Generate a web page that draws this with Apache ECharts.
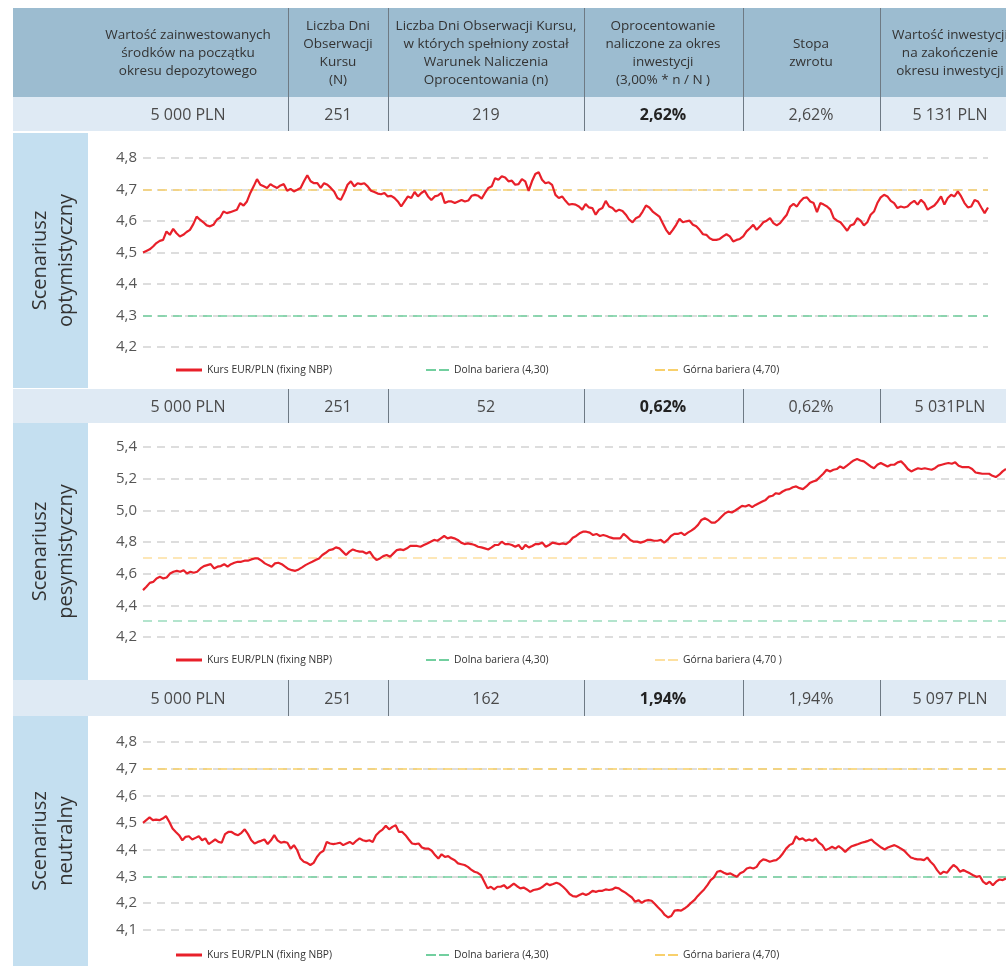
<!DOCTYPE html>
<html><head><meta charset="utf-8">
<script src="https://cdn.jsdelivr.net/npm/echarts@6/dist/echarts.min.js"></script>
<style>html,body{margin:0;padding:0;background:#fff}#c{width:1006px;height:966px}</style>
</head><body><div id="c"></div>
<script>
// ---------------- DATA ----------------
const headerLabels = [
  "Wartość zainwestowanych\nśrodków na początku\nokresu depozytowego",
  "Liczba Dni\nObserwacji\nKursu\n(N)",
  "Liczba Dni Obserwacji Kursu,\nw których spełniony został\nWarunek Naliczenia\nOprocentowania (n)",
  "Oprocentowanie\nnaliczone za okres\ninwestycji\n(3,00% * n / N )",
  "Stopa\nzwrotu",
  "Wartość inwestycji\nna zakończenie\nokresu inwestycji"
];
const rowOptimistic  = ["5 000 PLN", "251", "219", "2,62%", "2,62%", "5 131 PLN"];
const rowPessimistic = ["5 000 PLN", "251", "52",  "0,62%", "0,62%", "5 031PLN"];
const rowNeutral     = ["5 000 PLN", "251", "162", "1,94%", "1,94%", "5 097 PLN"];
const scenarioNames = ["Scenariusz\noptymistyczny", "Scenariusz\npesymistyczny", "Scenariusz\nneutralny"];

const seriesName = "Kurs EUR/PLN (fixing NBP)";
const lowerName = "Dolna bariera (4,30)";
const upperNames = ["Górna bariera (4,70)", "Górna bariera (4,70 )", "Górna bariera (4,70)"];
const LOWER = 4.30;
const UPPER = 4.70;

const yRanges = [[4.2, 4.8, 0.1], [4.2, 5.4, 0.2], [4.1, 4.8, 0.1]];

const optimistic = [
4.50,4.505,4.51,4.519,4.53,4.537,4.54,4.567,4.556,4.575,4.561,4.551,4.556,4.565,4.572,4.590,4.614,4.604,4.596,4.586,4.583,4.588,4.604,4.611,4.630,
4.625,4.628,4.632,4.636,4.657,4.649,4.662,4.689,4.710,4.733,4.715,4.710,4.705,4.717,4.710,4.705,4.713,4.717,4.696,4.702,4.694,4.699,
4.705,4.726,4.745,4.726,4.720,4.720,4.705,4.720,4.715,4.705,4.694,4.673,4.667,4.689,4.715,4.726,4.710,4.720,4.717,4.720,
4.710,4.696,4.692,4.687,4.685,4.689,4.678,4.680,4.673,4.662,4.646,4.662,4.678,4.673,4.692,4.678,4.689,4.696,4.678,4.667,4.678,
4.681,4.689,4.657,4.662,4.662,4.657,4.662,4.667,4.662,4.665,4.680,4.683,4.680,4.671,4.689,4.705,4.710,4.736,
4.731,4.742,4.738,4.726,4.728,4.715,4.717,4.733,4.726,4.696,4.726,4.749,4.755,4.731,4.720,4.723,4.715,4.683,4.673,4.678,
4.664,4.652,4.654,4.652,4.646,4.636,4.654,4.643,4.641,4.620,4.636,4.641,4.664,4.646,4.641,4.630,4.636,4.632,4.620,4.604,
4.596,4.609,4.614,4.630,4.649,4.643,4.630,4.622,4.614,4.593,4.572,4.558,4.572,4.588,4.607,4.596,4.599,4.601,4.588,4.583,
4.572,4.558,4.556,4.545,4.540,4.540,4.543,4.551,4.558,4.551,4.535,4.540,4.543,4.551,4.567,4.577,4.588,4.572,4.583,4.596,
4.601,4.609,4.593,4.586,4.593,4.607,4.620,4.646,4.654,4.646,4.662,4.673,4.675,4.662,4.657,4.628,4.657,4.652,4.646,4.636,
4.609,4.601,4.596,4.583,4.569,4.586,4.590,4.609,4.601,4.586,4.596,4.620,4.630,4.657,4.675,4.683,4.678,4.664,4.657,4.641,
4.646,4.643,4.646,4.657,4.664,4.652,4.667,4.657,4.636,4.643,4.649,4.662,4.678,4.652,4.673,4.683,4.678,4.694,4.678,4.657,
4.643,4.646,4.667,4.662,4.643,4.625,4.643
];

const pessimistic = [
4.496,4.517,4.542,4.548,4.570,4.580,4.570,4.576,4.601,4.612,4.618,4.612,4.622,4.601,4.612,4.606,4.612,4.633,4.648,4.654,
4.660,4.633,4.644,4.648,4.660,4.644,4.660,4.669,4.675,4.675,4.682,4.682,4.690,4.696,4.696,4.682,4.665,4.654,4.644,4.665,
4.669,4.660,4.644,4.629,4.622,4.618,4.627,4.640,4.654,4.665,4.675,4.686,4.696,4.718,4.732,4.749,4.753,4.766,4.760,4.739,
4.718,4.739,4.753,4.745,4.739,4.739,4.728,4.739,4.707,4.686,4.696,4.711,4.718,4.707,4.728,4.749,4.753,4.749,4.760,4.775,
4.775,4.775,4.770,4.781,4.791,4.802,4.813,4.808,4.823,4.838,4.823,4.829,4.823,4.813,4.796,4.787,4.791,4.787,4.781,4.770,
4.766,4.760,4.753,4.766,4.781,
4.781,4.802,4.787,4.787,4.781,4.770,4.781,4.753,4.781,4.766,4.775,4.787,4.787,4.796,4.770,4.781,4.796,4.791,4.787,4.791,
4.787,4.802,4.827,4.838,4.855,4.865,4.865,4.859,4.844,4.851,4.838,4.844,4.838,4.829,4.823,4.823,4.823,4.851,4.834,4.813,
4.802,4.802,4.796,4.802,4.813,4.813,4.808,4.808,4.813,4.796,4.813,4.838,4.851,4.851,4.859,4.844,4.859,4.872,4.887,4.908,
4.939,4.950,4.939,4.922,4.922,4.939,4.961,4.982,4.992,4.986,4.999,5.013,5.028,5.024,5.034,5.020,5.034,5.045,5.056,5.066,
5.087,5.092,5.108,5.104,5.119,5.130,5.134,5.146,5.151,5.140,5.134,5.151,5.172,5.182,5.189,5.210,5.231,5.256,5.246,5.256,
5.261,5.277,5.266,5.282,5.299,5.315,5.324,5.315,5.309,5.294,5.277,5.266,5.288,5.299,5.288,5.277,5.288,5.288,5.303,5.309,
5.288,5.261,5.246,5.256,5.266,5.261,5.266,5.261,5.256,5.266,5.282,5.288,5.294,5.299,5.294,5.303,5.282,5.273,5.273,5.273,
5.261,5.239,5.235,5.231,5.231,5.231,5.218,5.210,5.225,5.246,5.261
];

const neutral = [
4.499,4.509,4.519,4.509,4.511,4.509,4.515,4.524,4.503,4.478,4.465,4.453,4.434,4.447,4.449,4.437,4.443,4.449,4.434,4.441,
4.420,4.428,4.437,4.428,4.425,4.457,4.465,4.465,4.457,4.453,4.462,4.475,4.457,4.434,4.422,4.428,4.432,4.437,4.420,4.434,
4.453,4.434,4.425,4.428,4.425,4.403,4.416,4.397,4.366,4.354,4.350,4.342,4.350,4.372,4.387,4.395,4.428,4.422,4.420,4.422,
4.425,4.416,4.422,4.428,4.420,4.432,4.441,4.434,4.431,4.434,4.428,4.453,4.465,4.474,4.488,4.475,4.484,4.490,4.465,4.465,
4.453,4.437,4.422,4.420,4.422,4.407,4.403,4.403,4.395,4.379,4.366,4.382,4.372,4.375,4.366,4.360,4.348,4.345,4.342,4.335,
4.325,4.317,4.313,4.304,4.280,4.255,4.261,4.251,4.261,4.261,4.267,
4.255,4.263,4.273,4.263,4.255,4.258,4.251,4.242,4.249,4.251,4.255,4.263,4.273,4.267,4.271,4.276,4.271,4.261,4.249,4.234,
4.226,4.224,4.230,4.236,4.230,4.236,4.246,4.242,4.246,4.246,4.251,4.249,4.251,4.258,4.255,4.246,4.239,4.230,4.221,4.205,
4.211,4.201,4.209,4.211,4.209,4.197,4.184,4.172,4.156,4.147,4.152,4.172,4.174,4.172,4.180,4.189,4.201,4.211,4.226,4.239,
4.251,4.267,4.286,4.296,4.317,4.320,4.313,4.308,4.311,4.304,4.298,4.311,4.317,4.329,4.333,4.329,4.335,4.354,4.363,4.360,
4.354,4.358,4.360,4.370,4.385,4.403,4.416,4.422,4.449,4.437,4.441,4.432,4.437,4.432,4.441,4.425,4.416,4.397,4.403,4.410,
4.403,4.412,4.403,4.391,4.403,4.412,4.416,4.420,4.425,4.428,4.432,4.437,4.425,4.416,4.407,4.400,4.407,4.412,4.416,4.410,
4.403,4.395,4.382,4.370,4.366,4.363,4.363,4.360,4.370,4.354,4.342,4.323,4.308,4.317,4.313,4.329,4.342,4.333,4.317,4.323,
4.317,4.311,4.304,4.298,4.301,4.280,4.271,4.280,4.267,4.280,4.288,4.286,4.292
];

// ---------------- LAYOUT ----------------
const FONT = "'Open Sans', 'Noto Sans', sans-serif";
const W = 1006;
const colSeps = [288, 388, 584, 743, 880];
const colCenters = [188, 338, 486, 663, 811, 950];
const valueRows = [{y: 97, h: 34}, {y: 389, h: 34}, {y: 680, h: 36}];
const labelCols = [{y: 133, h: 255}, {y: 423, h: 257}, {y: 716, h: 250}];
const grids = [
  {left: 143, right: 18, top: 158, height: 189, legendY: 365},
  {left: 143, right: 0, top: 447, height: 190, legendY: 655},
  {left: 143, right: 0, top: 742, height: 188, legendY: 950}
];
const RED = '#e8202a';
const GREENS = ['#72cf9f', '#9adbbd', '#72cf9f'];
const GOLDS = ['#f8d06c', '#fde0a0', '#f8cf66'];
const HEADER_BG = '#9cbcd0', ROW_BG = '#dfeaf4', LABEL_BG = '#c4dff0', SEP = '#6e7a84';
const DASH_ICON = 'path://M0,0H10V2H0Z M13,0H23V2H13Z';

const rows = [rowOptimistic, rowPessimistic, rowNeutral];
const dataSets = [optimistic, pessimistic, neutral];

const graphic = [];
graphic.push({type: 'rect', shape: {x: 13, y: 8, width: W - 13, height: 89}, style: {fill: HEADER_BG}, silent: true});
headerLabels.forEach((t, i) => {
  graphic.push({type: 'text', x: colCenters[i], y: 53, style: {text: t, font: `13.5px ${FONT}`, lineHeight: 18, fill: '#333', align: 'center', verticalAlign: 'middle'}, silent: true});
});
valueRows.forEach((r, k) => {
  graphic.push({type: 'rect', shape: {x: 13, y: r.y, width: W - 13, height: r.h}, style: {fill: ROW_BG}, silent: true});
  rows[k].forEach((t, i) => {
    graphic.push({type: 'text', x: colCenters[i], y: r.y + r.h / 2 + 1, style: {text: t, font: (i === 3 ? 'bold ' : '') + `16px ${FONT}`, fill: i === 3 ? '#222' : '#4a4a4a', align: 'center', verticalAlign: 'middle'}, silent: true});
  });
  const y0 = k === 0 ? 8 : r.y;
  const y1 = r.y + r.h;
  colSeps.forEach(x => {
    graphic.push({type: 'line', shape: {x1: x + 0.5, y1: y0, x2: x + 0.5, y2: y1}, style: {stroke: SEP, lineWidth: 1}, silent: true});
  });
});
labelCols.forEach((c, k) => {
  graphic.push({type: 'rect', shape: {x: 13, y: c.y, width: 75, height: c.h}, style: {fill: LABEL_BG}, silent: true});
  graphic.push({type: 'text', x: 53, y: c.y + c.h / 2, rotation: Math.PI / 2, style: {text: scenarioNames[k], font: `20px ${FONT}`, lineHeight: 26, fill: '#333', align: 'center', verticalAlign: 'middle'}, silent: true});
});

const gridOpts = [], xAxes = [], yAxes = [], series = [], legends = [];
grids.forEach((g, k) => {
  const vals = dataSets[k];
  const days = vals.map((_, i) => String(i + 1));
  const GREEN = GREENS[k], GOLD = GOLDS[k];
  gridOpts.push({left: g.left, right: g.right, top: g.top, height: g.height, containLabel: false});
  xAxes.push({type: 'category', gridIndex: k, data: days, boundaryGap: false, show: false});
  const [mn, mx, iv] = yRanges[k];
  yAxes.push({
    type: 'value', gridIndex: k, min: mn, max: mx, interval: iv,
    axisLine: {show: false}, axisTick: {show: false},
    axisLabel: {formatter: v => v.toFixed(1).replace('.', ','), color: '#555', fontSize: 15, fontFamily: FONT, margin: 6},
    splitLine: {show: true, lineStyle: {color: '#d2d2d2', width: 1.5, type: [8, 6]}}
  });
  const upName = upperNames[k];
  series.push({
    name: lowerName, type: 'line', xAxisIndex: k, yAxisIndex: k, data: [], symbol: 'none',
    color: GREEN, itemStyle: {color: GREEN}, lineStyle: {color: GREEN, width: 1.5, type: [9, 6]},
    markLine: {silent: true, symbol: ['none', 'none'], label: {show: false}, animation: false,
      lineStyle: {color: GREEN, width: 1.5, type: [9, 6]}, emphasis: {disabled: true}, data: [{yAxis: LOWER}]}
  });
  series.push({
    name: upName, type: 'line', xAxisIndex: k, yAxisIndex: k, data: [], symbol: 'none',
    color: GOLD, itemStyle: {color: GOLD}, lineStyle: {color: GOLD, width: 1.5, type: [9, 6]},
    markLine: {silent: true, symbol: ['none', 'none'], label: {show: false}, animation: false,
      lineStyle: {color: GOLD, width: 1.5, type: [9, 6]}, emphasis: {disabled: true}, data: [{yAxis: UPPER}]}
  });
  series.push({
    name: seriesName, type: 'line', xAxisIndex: k, yAxisIndex: k, data: vals, symbol: 'none',
    color: RED, itemStyle: {color: RED}, lineStyle: {color: RED, width: 2.2}, z: 5
  });
  const lg = (name, left, icon, w, h) => ({
    data: [{name: name, icon: icon}], left: left, top: g.legendY, padding: 0, itemWidth: w, itemHeight: h, itemGap: 0,
    selectedMode: false, textStyle: {fontSize: 10.3, fontFamily: FONT, color: '#333'}
  });
  legends.push(lg(seriesName, 176, 'rect', 26, 3), lg(lowerName, 426, DASH_ICON, 23, 2), lg(upName, 655, DASH_ICON, 23, 2));
});

const chart = echarts.init(document.getElementById('c'), null, {renderer: 'canvas'});
chart.setOption({
  animation: false,
  backgroundColor: '#fff',
  grid: gridOpts, xAxis: xAxes, yAxis: yAxes, series: series, legend: legends,
  graphic: graphic
});
</script></body></html>
